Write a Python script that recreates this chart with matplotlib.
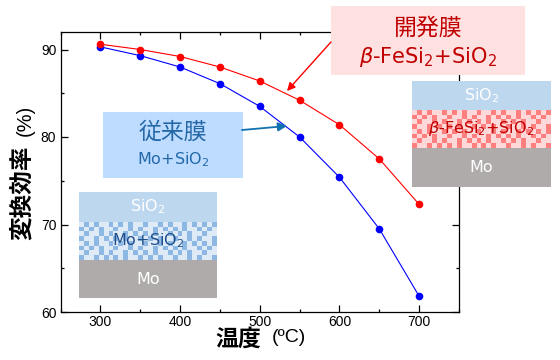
"""Conversion efficiency vs temperature for two absorber films"""

import matplotlib
matplotlib.use('Agg')
import matplotlib.pyplot as plt
import numpy as np
from matplotlib.patches import Rectangle
from matplotlib.ticker import MultipleLocator

plt.rcParams['font.family'] = ['Liberation Sans', 'Noto Sans CJK JP', 'DejaVu Sans']
plt.rcParams['mathtext.fontset'] = 'dejavusans'

temperature = [300, 350, 400, 450, 500, 550, 600, 650, 700]
new_film = [90.6, 90.0, 89.2, 88.0, 86.4, 84.2, 81.4, 77.5, 72.3]
old_film = [90.3, 89.3, 88.0, 86.1, 83.5, 80.0, 75.4, 69.5, 61.8]

CJK = ['Noto Sans CJK JP', 'DejaVu Sans']
BOX = ['DejaVu Sans']

# checker tile for the mixed layers
tile = np.array([
    [1, 0, 1, 0, 1, 1],
    [0, 1, 0, 1, 0, 1],
    [1, 0, 1, 1, 0, 1],
    [0, 1, 1, 0, 1, 0],
])


def mixed_layer(ax, x0, x1, y0, y1, dark, light):
    rows = int(round((y1 - y0) / 5))
    cols = int(round((x1 - x0) / 5))
    pattern = np.resize(tile, (4 * (rows // 4 + 1), 6 * (cols // 6 + 1)))[:rows, :cols]
    img = np.zeros(pattern.shape + (3,))
    img[pattern == 0] = matplotlib.colors.to_rgb(dark)
    img[pattern == 1] = matplotlib.colors.to_rgb(light)
    ax.imshow(img, extent=(x0, x1, y1, y0), aspect='auto', interpolation='nearest', zorder=2)


def layer_stack(ax, x0, x1, ys, dark, light, label, label_color):
    ax.add_patch(Rectangle((x0, ys[0]), x1 - x0, ys[1] - ys[0], fc='#BDD7EE', ec='none'))
    mixed_layer(ax, x0, x1, ys[1], ys[2], dark, light)
    ax.add_patch(Rectangle((x0, ys[2]), x1 - x0, ys[3] - ys[2], fc='#AFABAB', ec='none'))
    xc = (x0 + x1) / 2
    ax.text(xc, (ys[0] + ys[1]) / 2, r'SiO$_2$', color='white', fontsize=11.5, family=BOX,
            ha='center', va='center', zorder=3)
    ax.text(xc, (ys[1] + ys[2]) / 2, label, color=label_color, fontsize=11.5, family=BOX,
            ha='center', va='center', zorder=3)
    ax.text(xc, (ys[2] + ys[3]) / 2, 'Mo', color='white', fontsize=11.5, family=BOX,
            ha='center', va='center', zorder=3)


fig = plt.figure(figsize=(5.6, 3.6), dpi=100)
ax = fig.add_axes([60.5 / 560, 48 / 360, 398.5 / 560, 280 / 360])

ax.plot(temperature, old_film, '-o', color='#0000FF', lw=0.8, ms=4.5)
ax.plot(temperature, new_film, '-o', color='#FF0000', lw=0.8, ms=4.5)

ax.set_xlim(250, 750)
ax.set_ylim(60, 92)
ax.xaxis.set_major_locator(MultipleLocator(100))
ax.xaxis.set_minor_locator(MultipleLocator(50))
ax.yaxis.set_major_locator(MultipleLocator(10))
ax.yaxis.set_minor_locator(MultipleLocator(5))
ax.tick_params(which='major', direction='in', length=5, width=0.9, top=True, right=True, labelsize=10, pad=3)
ax.tick_params(axis='x', which='major', pad=2)
ax.tick_params(which='minor', direction='in', length=2.5, width=0.9, top=True, right=True)
for s in ax.spines.values():
    s.set_linewidth(0.9)

# overlay in pixel coordinates for boxes and labels
ov = fig.add_axes([0, 0, 1, 1], zorder=10)
ov.patch.set_alpha(0)
ov.axis('off')

layer_stack(ov, 79, 217, [192, 222, 260, 298], '#8DB8E4', '#DEEBF7', r'Mo+SiO$_2$', '#1F4E8C')
layer_stack(ov, 412, 551, [81, 110, 148, 187], '#FF7F7F', '#FFD9D9', r'$\beta$-FeSi$_2$+SiO$_2$', '#C00000')

ov.add_patch(Rectangle((331, 6), 194, 69, fc='#FFE1E1', ec='none'))
ov.text(428, 28, '開発膜', color='#C00000', fontsize=16.5, family=CJK, ha='center', va='center')
ov.text(428, 57, r'$\beta$-FeSi$_2$+SiO$_2$', color='#C00000', fontsize=15, family=BOX, ha='center', va='center')

ov.add_patch(Rectangle((103, 112), 140, 66, fc='#BDDCFF', ec='none'))
ov.text(173, 132, '従来膜', color='#2468A8', fontsize=16.5, family=CJK, ha='center', va='center')
ov.text(173, 160, r'Mo+SiO$_2$', color='#2468A8', fontsize=11.5, family=BOX, ha='center', va='center')

ov.annotate('', xy=(287, 91), xytext=(331, 42),
            arrowprops=dict(arrowstyle='-|>', color='#FF0000', lw=1.0, mutation_scale=12, shrinkA=0, shrinkB=0))
ov.annotate('', xy=(287, 126), xytext=(242, 130),
            arrowprops=dict(arrowstyle='-|>', color='#1070B0', lw=1.3, mutation_scale=13, shrinkA=0, shrinkB=0))

ov.text(238.5, 339, '温度', fontsize=16.5, fontweight='bold', family=CJK, ha='center', va='center')
ov.text(289, 338, '(ºC)', fontsize=14, ha='center', va='center')
ov.text(22, 192.5, '変換効率', fontsize=17, fontweight='bold', family=CJK, rotation=90, ha='center', va='center')
ov.text(25, 120, '(%)', fontsize=14.5, rotation=90, ha='center', va='center')

ov.set_xlim(0, 560)
ov.set_ylim(360, 0)

fig.savefig('out.png', dpi=100)
